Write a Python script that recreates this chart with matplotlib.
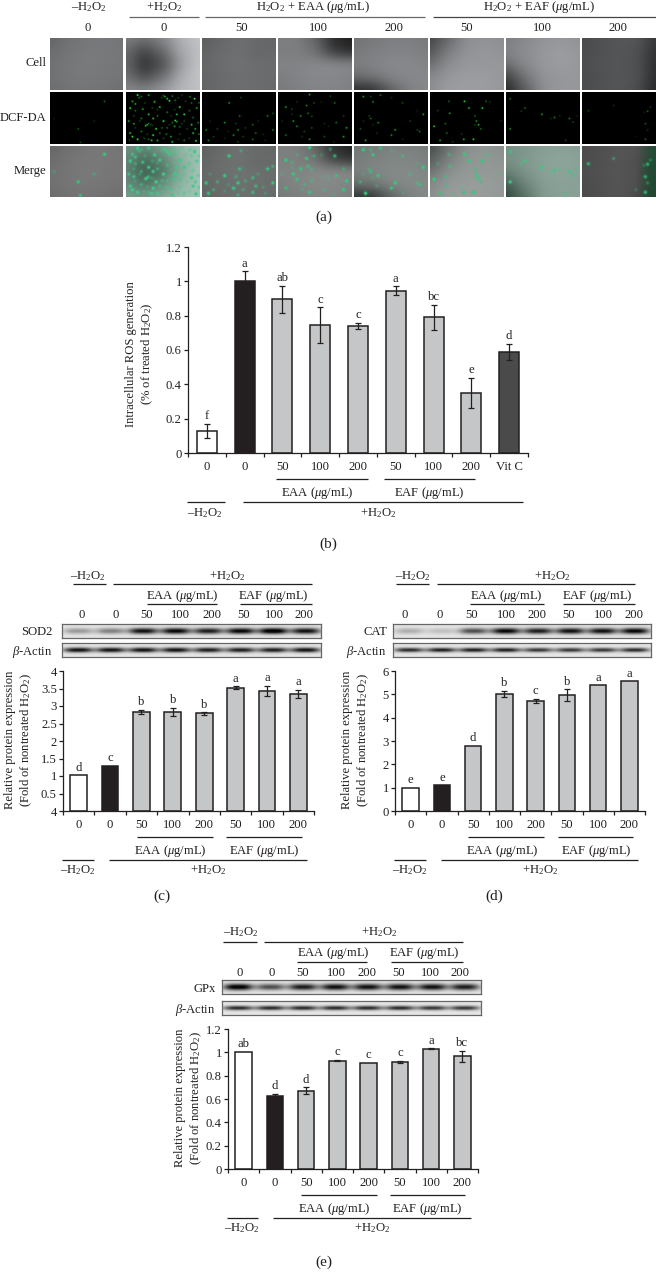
import numpy as np
import matplotlib
matplotlib.use('Agg')
import matplotlib.pyplot as plt

plt.rcParams['font.family'] = ['Liberation Serif', 'DejaVu Sans']
plt.rcParams['mathtext.fontset'] = 'custom'
plt.rcParams['mathtext.rm'] = 'Liberation Serif'
plt.rcParams['mathtext.it'] = 'Liberation Serif:italic'
plt.rcParams['mathtext.bf'] = 'Liberation Serif:bold'

W, H = 656, 1284
INK = '#231f20'
FS = 9.1
H2O2 = 'H$_2$O$_2$'
MINUS = '\u2013' + H2O2
PLUS = '+' + H2O2
EAA = 'EAA ($\\mu$g/mL)'
EAF = 'EAF ($\\mu$g/mL)'
ACTIN = '$\\beta$-Actin'
YLAB = 'Relative protein expression\n(Fold of nontreated ' + H2O2 + ')'

# bar data
ros_labels = ['0', '0', '50', '100', '200', '50', '100', '200', 'Vit C']
ros_values = [0.13, 1.0, 0.895, 0.745, 0.74, 0.945, 0.79, 0.35, 0.59]
ros_errors = [0.04, 0.06, 0.08, 0.105, 0.02, 0.027, 0.075, 0.088, 0.047]
ros_letters = ['f', 'a', 'ab', 'c', 'c', 'a', 'bc', 'e', 'd']
ros_ticks = ['0', '0.2', '0.4', '0.6', '0.8', '1', '1.2']

dose_labels = ['0', '0', '50', '100', '200', '50', '100', '200']

sod_values = [1.03, 1.3, 2.83, 2.83, 2.79, 3.52, 3.43, 3.35]
sod_errors = [0, 0, 0.06, 0.12, 0.04, 0.04, 0.15, 0.12]
sod_letters = ['d', 'c', 'b', 'b', 'b', 'a', 'a', 'a']
# the bottom label really reads 4 in the figure
sod_ticks = ['4', '0.5', '1', '1.5', '2', '2.5', '3', '3.5', '4']

cat_values = [1.0, 1.1, 2.8, 5.03, 4.72, 4.97, 5.38, 5.57]
cat_errors = [0, 0, 0, 0.13, 0.1, 0.26, 0, 0]
cat_letters = ['e', 'e', 'd', 'b', 'c', 'b', 'a', 'a']
cat_ticks = ['0', '1', '2', '3', '4', '5', '6']

gpx_values = [1.005, 0.625, 0.67, 0.93, 0.91, 0.92, 1.03, 0.965]
gpx_errors = [0, 0.02, 0.03, 0.008, 0, 0.008, 0.003, 0.05]
gpx_letters = ['ab', 'd', 'd', 'c', 'c', 'c', 'a', 'bc']
gpx_ticks = ['0', '0.2', '0.4', '0.6', '0.8', '1', '1.2']

# band strength per lane
sod_bands = [0.3, 0.4, 0.85, 0.9, 0.8, 0.9, 1.0, 0.85]
sod_actin = [0.85, 0.85, 0.85, 0.85, 0.8, 0.8, 0.8, 0.85]
cat_bands = [0.22, 0.15, 0.6, 0.9, 0.8, 0.85, 0.85, 0.9]
cat_actin = [0.75, 0.8, 0.8, 0.8, 0.7, 0.7, 0.7, 0.75]
gpx_bands = [0.95, 0.6, 0.8, 0.85, 0.85, 0.85, 0.85, 0.8]
gpx_actin = [0.75, 0.75, 0.75, 0.75, 0.75, 0.75, 0.7, 0.7]

# micrographs: coarse grey level of every cell image
cell_grey = [
    [[100, 112, 118, 120, 115], [108, 116, 120, 120, 118], [112, 118, 122, 120, 118], [112, 118, 120, 118, 116], [108, 114, 116, 114, 110]],
    [[125, 112, 135, 175, 195], [105, 70, 105, 165, 190], [100, 50, 80, 155, 195], [110, 78, 112, 170, 195], [135, 128, 150, 180, 190]],
    [[92, 102, 110, 105, 100], [98, 106, 110, 102, 104], [100, 108, 112, 108, 106], [100, 106, 110, 108, 106], [98, 104, 108, 106, 104]],
    [[125, 125, 100, 45, 30], [125, 125, 112, 62, 45], [130, 130, 135, 135, 132], [125, 130, 135, 135, 130], [120, 125, 130, 130, 125]],
    [[115, 120, 125, 125, 120], [120, 125, 130, 130, 125], [125, 130, 135, 135, 130], [105, 115, 130, 135, 135], [45, 50, 95, 125, 135]],
    [[70, 105, 140, 145, 140], [85, 125, 145, 150, 145], [110, 140, 150, 150, 150], [135, 150, 155, 155, 150], [140, 155, 155, 155, 150]],
    [[125, 135, 145, 150, 145], [130, 140, 150, 155, 150], [110, 135, 150, 155, 150], [65, 115, 145, 150, 150], [40, 90, 140, 150, 150]],
    [[75, 80, 85, 85, 55], [75, 80, 85, 80, 50], [78, 82, 85, 80, 45], [75, 80, 85, 80, 45], [75, 80, 85, 75, 40]],
]

# green cells seen in each DCF-DA image, fractions of the image
dcf_spots = [
    [(.74, .17), (.6, .55), (.41, .96), (.05, .5), (.38, .7)],
    [(.15, .05), (.2, .08), (.3, .05), (.48, .1), (.55, .12), (.62, .07), (.75, .05), (.92, .12), (.98, .2), (.08, .17),
     (.25, .2), (.38, .18), (.66, .15), (.8, .17), (.05, .3), (.12, .35), (.22, .32), (.35, .3), (.45, .28), (.55, .38),
     (.65, .33), (.72, .28), (.85, .35), (.95, .3), (.1, .45), (.3, .42), (.42, .45), (.6, .45), (.78, .42), (.9, .48),
     (.03, .55), (.18, .55), (.28, .62), (.3, .6), (.35, .63), (.5, .55), (.62, .58), (.68, .56), (.75, .6), (.88, .62),
     (.97, .58), (.12, .68), (.4, .7), (.55, .68), (.65, .65), (.82, .7), (.05, .78), (.2, .75), (.28, .8), (.36, .82),
     (.45, .78), (.6, .85), (.72, .8), (.9, .78), (.98, .8), (.04, .92), (.15, .9), (.3, .9), (.42, .92), (.5, .88),
     (.62, .95), (.78, .92), (.85, .88), (.94, .93), (.5, .06), (.52, .08), (.33, .62), (.26, .64), (.17, .1), (.7, .1),
     (.58, .16), (.88, .2), (.12, .22), (.42, .33), (.68, .42), (.2, .5), (.58, .62), (.66, .54), (.72, .66), (.1, .6),
     (.24, .88), (.34, .92), (.54, .8), (.7, .9), (.08, .85), (.48, .68), (.93, .7), (.78, .55), (.36, .5), (.86, .08)],
    [(.36, .2), (.52, .1), (.5, .45), (.52, .45), (.88, .45), (.95, .4), (.1, .55), (.3, .58), (.45, .6), (.68, .62),
     (.75, .55), (.05, .72), (.2, .7), (.35, .75), (.48, .72), (.58, .68), (.72, .78), (.82, .8), (.95, .72), (.15, .85),
     (.3, .88), (.42, .82), (.55, .85), (.68, .9), (.85, .92), (.08, .92), (.48, .95)],
    [(.42, .04), (.7, .07), (.76, .2), (.25, .18), (.38, .25), (.48, .2), (.58, .18), (.1, .28), (.18, .32), (.4, .4),
     (.18, .42), (.3, .45), (.45, .46), (.05, .55), (.2, .55), (.88, .45), (.78, .58), (.62, .6), (.25, .65), (.45, .68),
     (.68, .65), (.92, .68), (.35, .75), (.1, .82), (.32, .85), (.42, .9), (.62, .85), (.75, .95), (.88, .85)],
    [(.12, .08), (.22, .08), (.35, .05), (.5, .1), (.25, .18), (.65, .2), (.85, .35), (.93, .42), (.2, .45), (.22, .5),
     (.12, .55), (.32, .58), (.08, .7), (.25, .62), (.55, .72), (.75, .55), (.88, .75), (.3, .78), (.5, .82), (.85, .72),
     (.65, .9), (.15, .92)],
    [(.46, .17), (.25, .17), (.26, .4), (.1, .35), (.52, .3), (.75, .17), (.8, .18), (.7, .3), (.6, .45), (.62, .55),
     (.6, .62), (.65, .62), (.68, .7), (.95, .55), (.05, .65), (.2, .6), (.13, .92), (.3, .95), (.45, .9), (.22, .78),
     (.42, .8), (.58, .9)],
    [(.48, .42), (.2, .36), (.05, .12), (.72, .45), (.85, .5), (.9, .57), (.95, .45), (.05, .7), (.8, .92), (.25, .3),
     (.6, .5), (.65, .48)],
    [(.88, .36), (.92, .28), (.08, .35), (.83, .38), (.85, .6), (.88, .72), (.72, .85), (.85, .9), (.42, .25)],
]
spot_levels = [1.0, 0.45, 0.7, 0.3, 0.85, 0.5, 0.25]
dcf_bright = [0.4, 0.9, 0.55, 0.6, 0.6, 0.8, 0.55, 0.4]
merge_wash = [0.0, 0.3, 0.03, 0.03, 0.05, 0.05, 0.2, 0.0]

fig = plt.figure(figsize=(W / 100, H / 100), dpi=100, facecolor='white')


def px_axes(x0, y0, x1, y1, **kw):
    # axes placed with reference pixels, y counted from the top
    return fig.add_axes([x0 / W, 1 - y1 / H, (x1 - x0) / W, (y1 - y0) / H], **kw)


page = px_axes(0, 0, W, H)
page.set_xlim(0, W)
page.set_ylim(H, 0)
page.axis('off')
page.set_zorder(5)


def say(x, y, s, fs=FS, ha='center', rot=0):
    page.text(x, y, s, fontsize=fs, ha=ha, va='center', rotation=rot, color=INK,
              rotation_mode='anchor' if rot else 'default', linespacing=1.15)


def rule(x0, x1, y, color=INK, lw=0.9):
    page.plot([x0, x1], [y, y], color=color, lw=lw, solid_capstyle='butt')


def smooth(a, r):
    # box blur along both directions, edges padded
    kernel = np.ones(2 * r + 1) / (2 * r + 1)
    a = np.pad(a, r, mode='edge')
    a = np.apply_along_axis(lambda v: np.convolve(v, kernel, mode='same'), 0, a)
    a = np.apply_along_axis(lambda v: np.convolve(v, kernel, mode='same'), 1, a)
    return a[r:-r, r:-r]


def upsample(m, w, h):
    m = np.array(m, dtype=float)
    xs = np.linspace(0, 1, m.shape[1])
    ys = np.linspace(0, 1, m.shape[0])
    gx = np.linspace(0, 1, w)
    gy = np.linspace(0, 1, h)
    rows = np.array([np.interp(gx, xs, r) for r in m])
    return smooth(np.array([np.interp(gy, ys, rows[:, j]) for j in range(w)]).T, 6)


def spot_layer(spots, w, h, sigma):
    xx, yy = np.meshgrid(np.arange(w), np.arange(h))
    out = np.zeros((h, w))
    for k, (sx, sy) in enumerate(spots):
        d = (xx - sx * w) ** 2 + (yy - sy * h) ** 2
        out = np.maximum(out, spot_levels[k % len(spot_levels)] * np.exp(-d / (2 * sigma ** 2)))
    return out


# (a) micrographs
col_x = [(50, 123), (125.5, 199.5), (202, 276), (278, 352), (354, 428), (430, 504), (506, 580), (582, 656)]
row_y = [(38, 90), (92, 144), (145.5, 197)]
for i, (x0, x1) in enumerate(col_x):
    w, h = int(round(x1 - x0)), 52
    grey = upsample(cell_grey[i], w, h) / 255
    cell = np.dstack([grey, grey * 1.01, grey * 1.03]).clip(0, 1)
    green = spot_layer(dcf_spots[i], w, h, 0.7) * dcf_bright[i]
    dcf = np.dstack([green * 0.2, green, green * 0.25])
    # merge row: same spots, paler, over the cell image
    glow = np.clip(spot_layer(dcf_spots[i], w, h, 1.15) * 1.3, 0, 1)
    mg = np.dstack([grey * (1 - glow) + 0.2 * glow,
                    grey * (1 - glow) + 0.78 * glow,
                    grey * (1 - glow) + 0.5 * glow])
    wash = merge_wash[i]
    mg = mg * (1 - wash) + np.array([0.35, 0.8, 0.6]) * wash
    if i == 7:
        # green edge on the last merge image
        ramp = np.clip((np.linspace(0, 1, w) - 0.75) / 0.25, 0, 1)[None, :, None] * 0.5
        mg = mg * (1 - ramp) + np.array([0.05, 0.4, 0.2]) * ramp
    for (y0, y1), img in zip(row_y, [cell, dcf, mg]):
        ax = px_axes(x0, y0, x1, y1)
        ax.imshow(img.clip(0, 1), aspect='auto', interpolation='bilinear')
        ax.axis('off')

say(89, 7, MINUS)
say(164, 7, PLUS)
say(313, 7, H2O2 + ' + ' + EAA)
say(539, 7, H2O2 + ' + ' + EAF)
rule(129, 199, 17, '#666666')
rule(205, 425, 17, '#666666')
rule(433, 656, 17, '#444444')
for x, s in zip([88, 164, 242, 318, 394, 467, 542, 618], dose_labels):
    say(x, 28, s)
say(46, 63, 'Cell', ha='right')
say(46, 118, 'DCF-DA', ha='right')
say(46, 171, 'Merge', ha='right')
say(324, 217, '(a)', fs=11)


def bar_panel(box, values, errors, letters, labels, ticks, ymax, colors):
    ax = px_axes(*box)
    ax.patch.set_alpha(0)
    n = len(values)
    pos = np.arange(n) + 0.5
    ax.bar(pos, values, width=0.53, color=colors, edgecolor=INK, linewidth=1.1, zorder=2)
    for p, v, e, s in zip(pos, values, errors, letters):
        if e > 0:
            ax.errorbar(p, v, yerr=e, color=INK, lw=0.9, capsize=2.2, capthick=0.9, zorder=3)
        ax.annotate(s, (p, v + e), xytext=(0, 1), textcoords='offset points', ha='center',
                    va='bottom', fontsize=FS, color=INK)
    ax.set_xlim(0, n)
    ax.set_ylim(0, ymax)
    ax.set_xticks(np.arange(n + 1))
    ax.set_xticklabels([])
    ax.set_xticks(pos, minor=True)
    ax.set_xticklabels(labels, minor=True, fontsize=FS, color=INK)
    ax.tick_params(axis='x', which='major', length=3.2, width=0.9, color=INK)
    ax.tick_params(axis='x', which='minor', length=0, pad=5.5)
    ax.set_yticks(np.linspace(0, ymax, len(ticks)))
    ax.set_yticklabels(ticks, fontsize=FS, color=INK)
    ax.tick_params(axis='y', length=3, width=0.9, color=INK, pad=1.5)
    for side in ['top', 'right']:
        ax.spines[side].set_visible(False)
    for side in ['left', 'bottom']:
        ax.spines[side].set_linewidth(0.9)
        ax.spines[side].set_color(INK)
    return ax


def blot(box, strengths, thick):
    x0, y0, x1, y1 = box
    w, h = int(x1 - x0) * 3, int(y1 - y0) * 3
    xx, yy = np.meshgrid(np.linspace(0, 1, w), np.linspace(0, 1, h))
    img = np.full((h, w), 0.9)
    n = len(strengths)
    for i, s in enumerate(strengths):
        band = np.exp(-np.abs((xx - (i + 0.5) / n) / (0.45 / n)) ** 3) * np.exp(-((yy - 0.5) / thick) ** 2)
        img = img - s * band
    ax = px_axes(*box)
    ax.imshow(img.clip(0.02, 1), cmap='gray', vmin=0, vmax=1, aspect='auto', interpolation='bilinear')
    ax.set_xticks([])
    ax.set_yticks([])
    for sp in ax.spines.values():
        sp.set_color('#666666')
        sp.set_linewidth(0.9)


bar_colors = ['white', INK] + ['#c5c6c8'] * 6

# (b) ROS
bar_panel((188, 247, 528, 453), ros_values, ros_errors, ros_letters, ros_labels, ros_ticks, 1.2,
          bar_colors + ['#4a4a4b'])
say(140, 354, 'Intracellular ROS generation\n(% of treated ' + H2O2 + ')', rot=90)
rule(276, 368, 479)
rule(384, 475, 479)
say(317, 493, EAA)
say(429, 493, EAF)
rule(187, 225, 502)
rule(243, 523, 502)
say(205, 513, MINUS)
say(378, 513, PLUS)
say(328, 544, '(b)', fs=11)

# (c) SOD2
blot((62, 624, 321, 638), sod_bands, 0.22)
blot((62, 643, 321, 657), sod_actin, 0.18)
bar_panel((63, 671, 314, 811), sod_values, sod_errors, sod_letters, dose_labels, sod_ticks, 4, bar_colors)
say(19, 740, YLAB, rot=90)
say(53, 632, 'SOD2', ha='right')
say(53, 652, ACTIN, ha='right')
say(88, 576, MINUS)
say(227, 576, PLUS)
rule(73, 106, 584)
rule(113, 312, 584)
say(182, 596, EAA)
say(273, 596, EAF)
rule(147, 217, 604)
rule(240, 312, 604)
for x, s in zip([82, 116, 147, 180, 212, 244, 274, 304], dose_labels):
    say(x, 615, s)
rule(137, 213, 837)
rule(226, 302, 837)
say(170, 851, EAA)
say(264, 851, EAF)
rule(62, 94, 860)
rule(109, 307, 860)
say(78, 870, MINUS)
say(208, 870, PLUS)
say(162, 896, '(c)', fs=11)

# (d) CAT
blot((393, 624, 651, 638), cat_bands, 0.22)
blot((393, 643, 651, 657), cat_actin, 0.16)
bar_panel((395, 671, 645, 811), cat_values, cat_errors, cat_letters, dose_labels, cat_ticks, 6, bar_colors)
say(356, 740, YLAB, rot=90)
say(387, 632, 'CAT', ha='right')
say(387, 652, ACTIN, ha='right')
say(413, 576, MINUS)
say(552, 576, PLUS)
rule(396, 429, 584)
rule(437, 635, 584)
say(506, 596, EAA)
say(597, 596, EAF)
rule(470, 544, 604)
rule(563, 635, 604)
for x, s in zip([405, 440, 472, 506, 537, 569, 603, 634], dose_labels):
    say(x, 615, s)
rule(468, 544, 837)
rule(558, 633, 837)
say(502, 851, EAA)
say(596, 851, EAF)
rule(394, 426, 860)
rule(441, 638, 860)
say(410, 870, MINUS)
say(540, 870, PLUS)
say(494, 896, '(d)', fs=11)

# (e) GPx
blot((222, 980, 481, 994), gpx_bands, 0.24)
blot((222, 1001, 481, 1015), gpx_actin, 0.16)
bar_panel((228, 1029, 478, 1169), gpx_values, gpx_errors, gpx_letters, dose_labels, gpx_ticks, 1.2, bar_colors)
say(189, 1098, YLAB, rot=90)
say(216, 989, 'GPx', ha='right')
say(216, 1010, ACTIN, ha='right')
say(241, 932, MINUS)
say(379, 932, PLUS)
rule(223, 257, 942)
rule(264, 463, 942)
say(333, 953, EAA)
say(424, 953, EAF)
rule(297, 367, 962)
rule(391, 463, 962)
for x, s in zip([240, 272, 303, 336, 367, 399, 430, 460], dose_labels):
    say(x, 973, s)
rule(301, 377, 1195)
rule(390, 465, 1195)
say(334, 1209, EAA)
say(427, 1209, EAF)
rule(227, 258, 1218)
rule(273, 471, 1218)
say(242, 1228, MINUS)
say(372, 1228, PLUS)
say(324, 1262, '(e)', fs=11)

fig.savefig('out.png', dpi=100, facecolor='white')
